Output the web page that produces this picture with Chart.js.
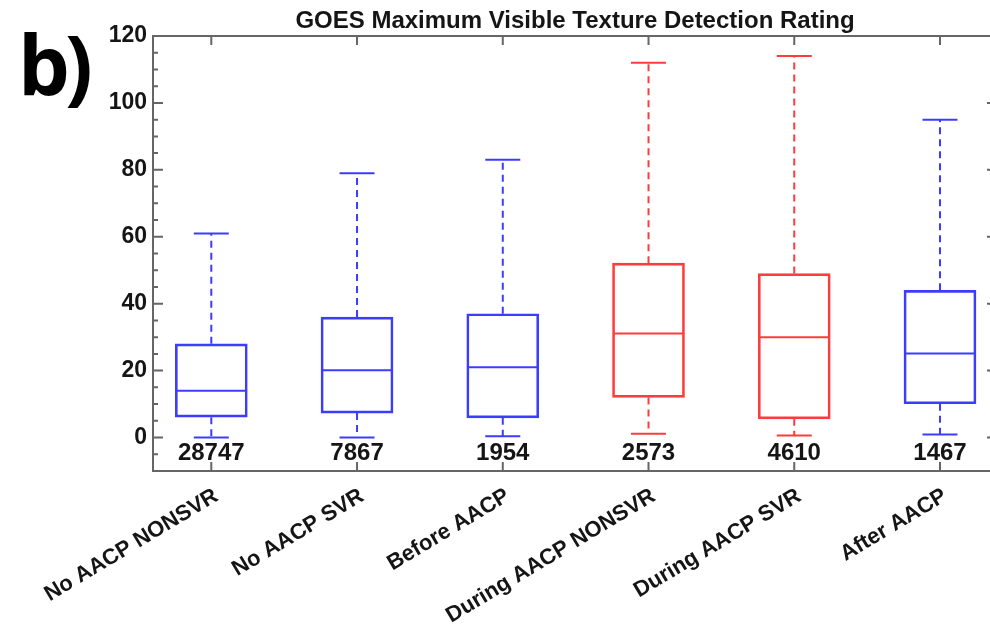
<!DOCTYPE html>
<html lang="en">
<head>
    <meta charset="UTF-8">
    <title>GOES Maximum Visible Texture Detection Rating</title>
    <style>
        html, body { margin: 0; padding: 0; background: #fff; overflow: hidden; }
        .wrap { width: 990px; height: 631px; overflow: hidden; }
    </style>
</head>
<body>
    <div class="wrap">
        <canvas id="ratingBox" width="1000" height="631"></canvas>
    </div>

    <script src="https://cdn.jsdelivr.net/npm/chart.js"></script>
    <script>
// box plot statistics per group
const groups = ['No AACP NONSVR', 'No AACP SVR', 'Before AACP', 'During AACP NONSVR', 'During AACP SVR', 'After AACP'];
const counts = [28747, 7867, 1954, 2573, 4610, 1467];
const whiskerLow = [0, 0, 0.4, 1.1, 0.6, 0.9];
const quart1 = [6.1, 7.3, 5.9, 12, 5.6, 10.1];
const medians = [14, 20.1, 21, 31.1, 30, 25.1];
const quart3 = [28, 36, 37, 52.1, 49, 44];
const whiskerHigh = [61, 79, 83, 112, 114, 95];
const boxColors = ['#3c3cff', '#3c3cff', '#3c3cff', '#ff3c3c', '#ff3c3c', '#3c3cff'];
const yTicks = [0, 20, 40, 60, 80, 100, 120];

const FRAME = '#666666';
const BOX_W = 72;
const CAP_W = 35;

// medians, dashed whiskers, caps, counts and the axes frame
const boxParts = {
    id: 'boxParts',
    afterDatasetsDraw(chart) {
        const ctx = chart.ctx;
        const xs = chart.scales.x;
        const ys = chart.scales.y;
        const area = chart.chartArea;

        ctx.save();
        ctx.lineWidth = 2;
        groups.forEach((g, i) => {
            const x = xs.getPixelForValue(i + 1);
            ctx.strokeStyle = boxColors[i];

            ctx.setLineDash([]);
            ctx.beginPath();
            ctx.moveTo(x - BOX_W / 2 + 1, ys.getPixelForValue(medians[i]));
            ctx.lineTo(x + BOX_W / 2 - 1, ys.getPixelForValue(medians[i]));
            [whiskerLow[i], whiskerHigh[i]].forEach(v => {
                ctx.moveTo(x - CAP_W / 2, ys.getPixelForValue(v));
                ctx.lineTo(x + CAP_W / 2, ys.getPixelForValue(v));
            });
            ctx.stroke();

            ctx.setLineDash([7, 5]);
            ctx.beginPath();
            ctx.moveTo(x, ys.getPixelForValue(quart3[i]));
            ctx.lineTo(x, ys.getPixelForValue(whiskerHigh[i]));
            ctx.moveTo(x, ys.getPixelForValue(quart1[i]));
            ctx.lineTo(x, ys.getPixelForValue(whiskerLow[i]));
            ctx.stroke();
        });
        ctx.setLineDash([]);

        // sample counts under each box
        ctx.fillStyle = '#151515';
        ctx.font = 'bold 24px "Liberation Sans", Arial, sans-serif';
        ctx.textAlign = 'center';
        ctx.textBaseline = 'middle';
        counts.forEach((n, i) => {
            ctx.fillText(String(n), xs.getPixelForValue(i + 1), ys.getPixelForValue(-4.6));
        });

        // frame with inward ticks
        ctx.strokeStyle = FRAME;
        ctx.lineWidth = 2;
        ctx.strokeRect(area.left, area.top, area.right - area.left, area.bottom - area.top);
        ctx.beginPath();
        for (let v = -5; v < 120; v += 5) {
            const y = ys.getPixelForValue(v);
            const len = v % 20 === 0 ? 10 : 5;
            ctx.moveTo(area.left, y);
            ctx.lineTo(area.left + len, y);
            if (v % 20 === 0) {
                ctx.moveTo(area.right, y);
                ctx.lineTo(area.right - 4, y);
            }
        }
        groups.forEach((g, i) => {
            const x = xs.getPixelForValue(i + 1);
            ctx.moveTo(x, area.top);
            ctx.lineTo(x, area.top + 9);
            ctx.moveTo(x, area.bottom);
            ctx.lineTo(x, area.bottom - 9);
        });
        ctx.stroke();

        // title and panel letter
        ctx.fillStyle = '#151515';
        ctx.font = 'bold 24px "Liberation Sans", Arial, sans-serif';
        ctx.textAlign = 'center';
        ctx.textBaseline = 'alphabetic';
        ctx.fillText('GOES Maximum Visible Texture Detection Rating', (area.left + area.right) / 2 + 3, 28);
        ctx.fillStyle = '#000';
        ctx.font = 'bold 82px "Open Sans", sans-serif';
        ctx.textAlign = 'left';
        ctx.letterSpacing = '-5px';
        ctx.fillText('b)', 18, 95);
        ctx.restore();
    }
};

new Chart(document.getElementById('ratingBox'), {
    type: 'bar',
    data: {
        datasets: [{
            data: groups.map((g, i) => ({ x: i + 1, y: [quart1[i], quart3[i]] })),
            backgroundColor: 'rgba(0,0,0,0)',
            borderColor: boxColors,
            borderWidth: 2,
            borderSkipped: false,
            barThickness: BOX_W
        }]
    },
    options: {
        responsive: false,
        animation: false,
        layout: { padding: { top: 36, right: 9, left: 0, bottom: 0 } },
        plugins: {
            legend: { display: false },
            tooltip: { enabled: false }
        },
        scales: {
            x: {
                type: 'linear',
                offset: false,
                min: 0.6,
                max: 6.35,
                grid: { display: false, drawTicks: false, offset: false },
                border: { display: false },
                afterBuildTicks: scale => { scale.ticks = groups.map((g, i) => ({ value: i + 1 })); },
                afterFit: scale => { scale.height = 160; },
                ticks: {
                    autoSkip: false,
                    minRotation: 31,
                    maxRotation: 31,
                    padding: 12,
                    labelOffset: 5,
                    color: '#151515',
                    font: { family: '"Liberation Sans", Arial, sans-serif', size: 22, weight: 'bold' },
                    callback: v => groups[v - 1]
                }
            },
            y: {
                min: -10,
                max: 120,
                grid: { display: false, drawTicks: false },
                border: { display: false },
                afterBuildTicks: scale => { scale.ticks = yTicks.map(v => ({ value: v })); },
                afterFit: scale => { scale.width = 153; },
                ticks: {
                    padding: 6,
                    color: '#151515',
                    font: { family: '"Liberation Sans", Arial, sans-serif', size: 23, weight: 'bold' }
                }
            }
        }
    },
    plugins: [boxParts]
});
    </script>
</body>
</html>
